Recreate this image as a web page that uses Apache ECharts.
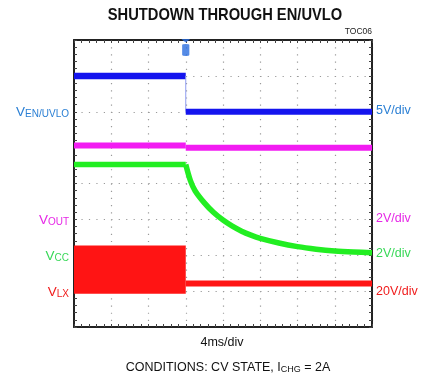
<!DOCTYPE html>
<html>
<head>
<meta charset="utf-8">
<script src="https://cdn.jsdelivr.net/npm/echarts@6/dist/echarts.min.js"></script>
<style>
  html, body { margin: 0; padding: 0; background: #fff; }
  #chart { width: 427px; height: 379px; }
</style>
</head>
<body>
<div id="chart"></div>
<script>
// Scope capture: time in ms relative to the trigger, amplitude in divisions (0 = bottom, 8 = top)
const timeRange = [-12, 20];
const timePerDiv = 4;
const divRange = [0, 8];
const triggerTime = 0;

// EN/UVLO channel (5V/div)
const enTime = [-12, 0, 0, 20];
const enLevel = [7.0, 7.0, 6.0, 6.0];

// VOUT channel (2V/div)
const outTime = [-12, 0, 0, 20];
const outLevel = [5.06, 5.06, 5.0, 5.0];

// VCC channel (2V/div): flat before shutdown, then decaying
const ccFlatTime = [-12, 0];
const ccFlatLevel = [4.53, 4.53];
const ccDecayTime = [0, 0.5, 1, 2, 3, 4, 5, 6, 7, 8, 10, 12, 14, 16, 18, 20];
const ccDecayLevel = [4.53, 4.08, 3.8, 3.46, 3.19, 2.98, 2.81, 2.67, 2.56, 2.47, 2.34, 2.24, 2.17, 2.12, 2.09, 2.07];

// LX channel (20V/div): switching envelope before shutdown, quiet level after
const lxBurstTime = [-12, 0];
const lxBurstLow = 0.925;
const lxBurstHigh = 2.27;
const lxQuietTime = [0, 20];
const lxQuietLevel = [1.21, 1.21];

const colors = {
  en: '#1414ee', enText: '#2a7fd4',
  out: '#f21cf2', outText: '#e628e6',
  cc: '#22ee22', ccText: '#38d858',
  lx: '#ff1414', lxText: '#f01c1c'
};

const FONT = '"Liberation Sans", Arial, sans-serif';
const pairs = (xs, ys) => xs.map((x, i) => [x, ys[i]]);

const chart = echarts.init(document.getElementById('chart'), null, { renderer: 'canvas' });

const tickStyle = { show: true, inside: true, length: 3, lineStyle: { color: '#444', width: 1 } };
const minorStyle = { show: true, splitNumber: 5, length: 3, lineStyle: { color: '#444', width: 1 } };
const frameLine = { show: true, onZero: false, lineStyle: { color: '#222', width: 2 } };

function xAxisDef(pos, grid) {
  return {
    type: 'value', position: pos, min: timeRange[0], max: timeRange[1], interval: timePerDiv,
    axisLine: frameLine, axisTick: tickStyle, minorTick: minorStyle, axisLabel: { show: false },
    splitLine: grid ? { show: true, lineStyle: { color: '#9a9a9a', width: 1.2, type: [1.2, 5.975] } } : { show: false }
  };
}
function yAxisDef(pos, grid) {
  return {
    type: 'value', position: pos, min: divRange[0], max: divRange[1], interval: 1,
    axisLine: frameLine, axisTick: tickStyle, minorTick: minorStyle, axisLabel: { show: false },
    splitLine: grid ? { show: true, lineStyle: { color: '#9a9a9a', width: 1.2, type: [1.2, 6.25] } } : { show: false }
  };
}

function lineSeries(data, color, width, extra) {
  return Object.assign({
    type: 'line', data: data, showSymbol: false, symbol: 'none',
    lineStyle: { color: color, width: width, cap: 'butt', join: 'round' }, itemStyle: { color: color },
    animation: false, silent: true
  }, extra || {});
}

const richMain = (size, color) => ({ fontSize: size, fill: color, fontFamily: FONT, verticalAlign: 'bottom', lineHeight: 15 });
const richSub = (size, color) => ({ fontSize: size, fill: color, fontFamily: FONT, verticalAlign: 'bottom', lineHeight: 8 });

function leftLabel(y, name, color) {
  return {
    type: 'text', x: 69, y: y, z: 10,
    style: {
      text: '{m|V}{s|' + name + '}', align: 'right', verticalAlign: 'middle',
      rich: { m: richMain(13.5, color), s: richSub(10, color) }
    }
  };
}
function rightLabel(y, text, color) {
  return {
    type: 'text', x: 376, y: y, z: 10,
    style: { text: text, fill: color, font: '12.5px ' + FONT, align: 'left', verticalAlign: 'middle' }
  };
}

chart.setOption({
  animation: false,
  backgroundColor: '#fff',
  grid: { left: 74, right: 55, top: 40, bottom: 52, containLabel: false },
  xAxis: [xAxisDef('bottom', true), xAxisDef('top', false)],
  yAxis: [yAxisDef('left', true), yAxisDef('right', false)],
  series: [
    // EN/UVLO: thick levels with a faint falling edge
    lineSeries(pairs(enTime.slice(0, 2), enLevel.slice(0, 2)), colors.en, 6.5),
    lineSeries(pairs(enTime.slice(1, 3), enLevel.slice(1, 3)), '#8f9cf0', 1),
    lineSeries(pairs(enTime.slice(2), enLevel.slice(2)), colors.en, 6),
    // VOUT
    lineSeries(pairs(outTime.slice(0, 2), outLevel.slice(0, 2)), colors.out, 6),
    lineSeries(pairs(outTime.slice(2), outLevel.slice(2)), colors.out, 6),
    // VCC
    lineSeries(pairs(ccFlatTime, ccFlatLevel), colors.cc, 5.5),
    lineSeries(pairs(ccDecayTime, ccDecayLevel), colors.cc, 5.5, { smooth: 0.3 }),
    // LX switching envelope
    {
      type: 'custom', silent: true, animation: false,
      data: [[lxBurstTime[0], lxBurstTime[1], lxBurstLow, lxBurstHigh]],
      renderItem: function (params, api) {
        const p0 = api.coord([api.value(0), api.value(3)]);
        const p1 = api.coord([api.value(1), api.value(2)]);
        return { type: 'rect', shape: { x: p0[0], y: p0[1], width: p1[0] - p0[0], height: p1[1] - p0[1] }, style: { fill: colors.lx } };
      }
    },
    lineSeries(pairs(lxQuietTime, lxQuietLevel), colors.lx, 6),
    // trigger marker at the top edge
    {
      type: 'scatter', silent: true, animation: false, z: 20, zlevel: 1, clip: false,
      data: [[triggerTime, divRange[1]]],
      symbol: 'path://M15,0 L85,0 L50,20 Z M22,36 Q22,30 50,30 Q78,30 78,36 L78,93 Q78,100 50,100 Q22,100 22,93 Z',
      symbolSize: [9, 17], symbolKeepAspect: false, symbolOffset: [0, 7.5],
      itemStyle: { color: '#2a6ee0' }
    }
  ],
  graphic: [
    { type: 'text', x: 225, y: 15, scaleX: 0.865, style: { text: 'SHUTDOWN THROUGH EN/UVLO', fill: '#111', font: 'bold 17px ' + FONT, align: 'center', verticalAlign: 'middle' } },
    { type: 'text', x: 372, y: 31.5, style: { text: 'TOC06', fill: '#222', font: '8.5px ' + FONT, align: 'right', verticalAlign: 'middle' } },
    leftLabel(112, 'EN/UVLO', colors.enText),
    leftLabel(220, 'OUT', colors.outText),
    leftLabel(256, 'CC', colors.ccText),
    leftLabel(292, 'LX', colors.lxText),
    rightLabel(111, '5V/div', colors.enText),
    rightLabel(219, '2V/div', colors.outText),
    rightLabel(254, '2V/div', colors.ccText),
    rightLabel(292, '20V/div', colors.lxText),
    { type: 'text', x: 222, y: 342.5, style: { text: '4ms/div', fill: '#111', font: '12.5px ' + FONT, align: 'center', verticalAlign: 'middle' } },
    {
      type: 'text', x: 228, y: 367,
      style: {
        text: '{a|CONDITIONS: CV STATE, I}{b|CHG}{a| = 2A}', align: 'center', verticalAlign: 'middle',
        rich: {
          a: { fontSize: 12.5, fill: '#111', fontFamily: FONT, verticalAlign: 'bottom', lineHeight: 15 },
          b: { fontSize: 9, fill: '#111', fontFamily: FONT, verticalAlign: 'bottom', lineHeight: 8 }
        }
      }
    }
  ]
});
</script>
</body>
</html>
